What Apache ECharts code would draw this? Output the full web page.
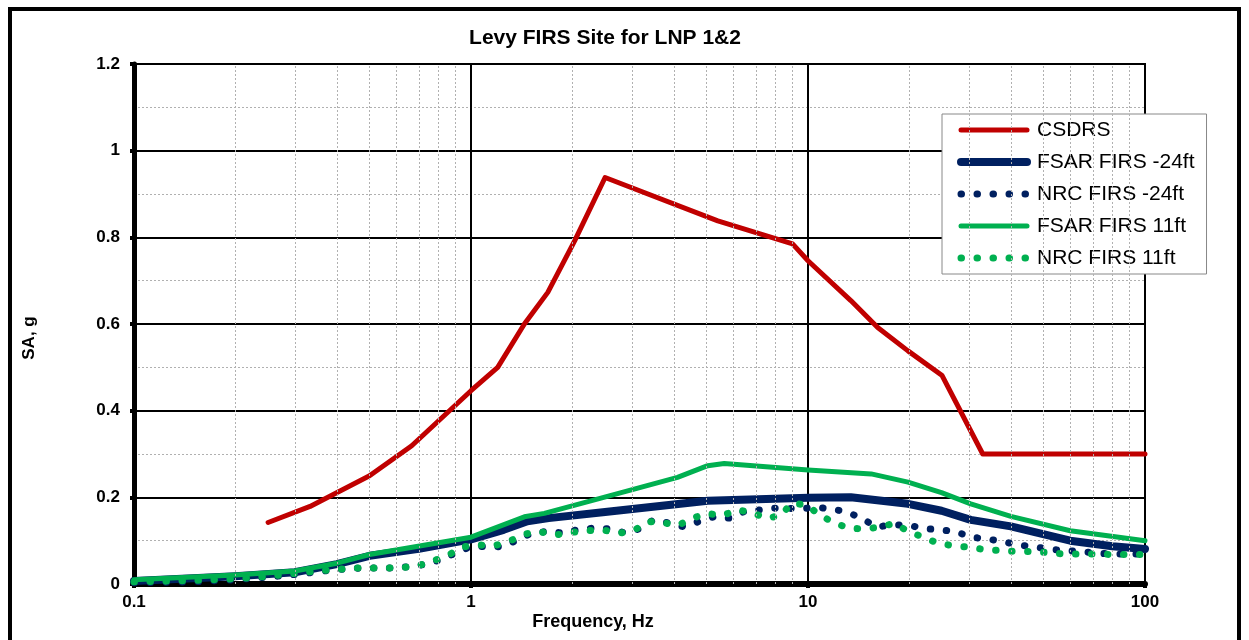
<!DOCTYPE html>
<html>
<head>
<meta charset="utf-8">
<script src="https://cdn.jsdelivr.net/npm/echarts@6/dist/echarts.min.js"></script>
<style>
html,body{margin:0;padding:0;background:#fff;}
#chart{width:1249px;height:640px;}
</style>
</head>
<body>
<div id="chart"></div>
<script>
var chartTitle = 'Levy FIRS Site for LNP 1&2';
var xAxisTitle = 'Frequency, Hz';
var yAxisTitle = 'SA, g';
var seriesNames = ['CSDRS', 'FSAR FIRS -24ft', 'NRC FIRS -24ft', 'FSAR FIRS 11ft', 'NRC FIRS 11ft'];
var minorFreqs = [0.2,0.3,0.4,0.5,0.6,0.7,0.8,0.9,2,3,4,5,6,7,8,9,20,30,40,50,60,70,80,90];

var csdrsFreq = [0.25, 0.333, 0.5, 0.667, 1.0, 1.2, 1.44, 1.69, 2.03, 2.5, 5.4, 9.0, 10, 13.4, 16.1, 19.8, 25, 33, 100];
var csdrsSA   = [0.142, 0.179, 0.25, 0.319, 0.446, 0.5, 0.6, 0.673, 0.792, 0.938, 0.838, 0.785, 0.746, 0.654, 0.592, 0.538, 0.481, 0.3, 0.3];

var fsar24Freq = [0.1, 0.2, 0.3, 0.4, 0.5, 0.7, 1.0, 1.25, 1.47, 1.7, 2.5, 5.04, 10, 13.4, 19.8, 24.9, 30.4, 40, 60, 80, 100];
var fsar24SA   = [0.007, 0.018, 0.027, 0.046, 0.065, 0.081, 0.103, 0.125, 0.145, 0.152, 0.166, 0.192, 0.199, 0.2, 0.185, 0.169, 0.148, 0.133, 0.1, 0.087, 0.081];

var nrc24Freq = [0.1, 0.15, 0.2, 0.25, 0.3, 0.34, 0.376, 0.426, 0.471, 0.528, 0.586, 0.656, 0.727, 0.805, 0.892, 0.99, 1.10, 1.23, 1.36, 1.51, 1.67, 1.86, 2.07, 2.31, 2.57, 2.86, 3.18, 3.48, 3.85, 4.28, 4.74, 5.25, 5.84, 6.45, 7.17, 7.94, 9.58, 10.6, 11.8, 13.2, 14.5, 16.0, 17.8, 19.8, 22.1, 24.6, 27.4, 30.5, 34.0, 37.8, 42.1, 46.9, 52.3, 58.3, 64.9, 72.4, 80.5, 89.8, 100];
var nrc24SA   = [0.003, 0.005, 0.01, 0.016, 0.022, 0.027, 0.031, 0.035, 0.037, 0.037, 0.037, 0.04, 0.045, 0.055, 0.07, 0.085, 0.087, 0.086, 0.1, 0.117, 0.121, 0.118, 0.125, 0.129, 0.127, 0.118, 0.128, 0.148, 0.141, 0.132, 0.144, 0.155, 0.152, 0.167, 0.171, 0.175, 0.174, 0.177, 0.173, 0.165, 0.15, 0.132, 0.136, 0.136, 0.128, 0.125, 0.121, 0.108, 0.104, 0.098, 0.09, 0.086, 0.08, 0.077, 0.075, 0.071, 0.069, 0.069, 0.069];

var fsar11Freq = [0.1, 0.2, 0.3, 0.4, 0.5, 1.0, 1.44, 1.65, 2.43, 4.1, 5.04, 5.64, 10, 15.4, 19.8, 24.9, 30.4, 40, 60, 100];
var fsar11SA   = [0.01, 0.021, 0.03, 0.048, 0.068, 0.108, 0.155, 0.163, 0.198, 0.246, 0.273, 0.278, 0.263, 0.254, 0.235, 0.211, 0.185, 0.156, 0.123, 0.1];

var nrc11Freq = [0.1, 0.15, 0.2, 0.25, 0.306, 0.36, 0.45, 0.505, 0.566, 0.627, 0.702, 0.778, 0.862, 0.951, 1.06, 1.17, 1.31, 1.44, 1.60, 1.78, 1.98, 2.21, 2.46, 2.74, 3.04, 3.35, 3.69, 4.11, 4.52, 5.0, 5.58, 6.16, 6.82, 7.55, 8.33, 8.92, 9.88, 10.8, 11.9, 13.2, 14.6, 16.3, 18.0, 19.9, 22.0, 24.3, 27.1, 30.3, 33.6, 37.6, 41.9, 46.8, 52.0, 58.0, 64.6, 72.4, 80.5, 89.8, 100];
var nrc11SA   = [0.005, 0.008, 0.012, 0.018, 0.025, 0.031, 0.037, 0.037, 0.037, 0.038, 0.043, 0.054, 0.068, 0.086, 0.09, 0.088, 0.1, 0.115, 0.121, 0.113, 0.119, 0.123, 0.125, 0.117, 0.123, 0.144, 0.142, 0.135, 0.151, 0.163, 0.158, 0.171, 0.165, 0.151, 0.159, 0.186, 0.183, 0.16, 0.142, 0.129, 0.127, 0.131, 0.14, 0.121, 0.108, 0.094, 0.088, 0.085, 0.079, 0.077, 0.075, 0.075, 0.072, 0.069, 0.069, 0.069, 0.068, 0.068, 0.068];

function pairs(xs, ys){ return xs.map(function(x,i){ return [x, ys[i]]; }); }

var RED = '#C00000', NAVY = '#002060', GREEN = '#00B050';
var FONT = '"Liberation Sans", Arial, sans-serif';

var chart = echarts.init(document.getElementById('chart'), null, {renderer:'canvas'});
var option = {
  animation: false,
  backgroundColor: '#ffffff',
  textStyle: {fontFamily: FONT},
  grid: {left: 134, top: 64, right: 104, bottom: 56, show: true, borderColor: '#000', borderWidth: 2, containLabel: false},
  legend: {
    orient: 'vertical', left: 942, top: 114,
    backgroundColor: '#ffffff', borderColor: '#888', borderWidth: 1,
    padding: [4, 12, 4, 15], itemGap: 8, itemWidth: 66, itemHeight: 14,
    textStyle: {fontFamily: FONT, fontSize: 21, color: '#000', lineHeight: 24, padding: [0, 0, 0, 5]},
    lineStyle: {width: 'inherit', type: 'inherit', cap: 'inherit'},
    itemStyle: {opacity: 0, borderWidth: 0},
    data: seriesNames
  },
  xAxis: {
    type: 'log', logBase: 10, min: 0.1, max: 100,
    axisLine: {show: true, onZero: false, lineStyle: {color: '#000', width: 6}},
    axisTick: {show: true, length: 4, lineStyle: {color: '#000', width: 4}},
    axisLabel: {fontFamily: FONT, fontSize: 17, fontWeight: 'bold', color: '#000', margin: 10,
      formatter: function(v){ return String(Math.round(v*1000)/1000); }},
    splitLine: {show: true, lineStyle: {color: '#000', width: 2}},
    minorTick: {show: false}, minorSplitLine: {show: false}
  },
  yAxis: {
    type: 'value', min: 0, max: 1.2, interval: 0.2,
    axisLine: {show: true, lineStyle: {color: '#000', width: 5}},
    axisTick: {show: true, length: 4, lineStyle: {color: '#000', width: 4}},
    axisLabel: {fontFamily: FONT, fontSize: 17, fontWeight: 'bold', color: '#000', margin: 14,
      formatter: function(v){ return String(Math.round(v*10)/10); }},
    splitLine: {show: true, lineStyle: {color: '#000', width: 2}},
    minorTick: {show: false, splitNumber: 2},
    minorSplitLine: {show: true, lineStyle: {color: '#b0b0b0', width: 1, type: [2, 2]}}
  },
  graphic: [
    {type: 'rect', silent: true, z: 100, shape: {x: 10, y: 9, width: 1229, height: 660},
      style: {fill: 'none', stroke: '#000', lineWidth: 4}},
    {type: 'text', silent: true, x: 605, y: 38, style: {text: chartTitle, font: 'bold 21px ' + FONT, fill: '#000', textAlign: 'center', textVerticalAlign: 'middle'}},
    {type: 'text', silent: true, x: 593, y: 622, style: {text: xAxisTitle, font: 'bold 18px ' + FONT, fill: '#000', textAlign: 'center', textVerticalAlign: 'middle'}},
    {type: 'text', silent: true, x: 29, y: 338, rotation: Math.PI/2, style: {text: yAxisTitle, font: 'bold 17px ' + FONT, fill: '#000', textAlign: 'center', textVerticalAlign: 'middle'}}
  ],
  series: [
    {name: '_minor', type: 'line', data: [], z: 1, silent: true,
      markLine: {silent: true, symbol: ['none','none'], label: {show: false}, animation: false,
        lineStyle: {color: '#b0b0b0', width: 1, type: [2, 2]},
        data: minorFreqs.map(function(f){ return {xAxis: f}; })}},
    {name: seriesNames[0], type: 'line', data: pairs(csdrsFreq, csdrsSA), symbol: 'none', color: RED,
      lineStyle: {color: RED, width: 5, cap: 'round', join: 'round'}},
    {name: seriesNames[1], type: 'line', data: pairs(fsar24Freq, fsar24SA), symbol: 'none', color: NAVY,
      lineStyle: {color: NAVY, width: 8, cap: 'round', join: 'round'}},
    {name: seriesNames[2], type: 'line', data: pairs(nrc24Freq, nrc24SA), symbol: 'none', color: NAVY,
      lineStyle: {color: NAVY, width: 7, cap: 'round', join: 'round', type: [0.5, 15.5]}},
    {name: seriesNames[3], type: 'line', data: pairs(fsar11Freq, fsar11SA), symbol: 'none', color: GREEN,
      lineStyle: {color: GREEN, width: 5, cap: 'round', join: 'round'}},
    {name: seriesNames[4], type: 'line', data: pairs(nrc11Freq, nrc11SA), symbol: 'none', color: GREEN,
      lineStyle: {color: GREEN, width: 7, cap: 'round', join: 'round', type: [0.5, 15.5]}}
  ]
};
chart.setOption(option);
</script>
</body>
</html>
